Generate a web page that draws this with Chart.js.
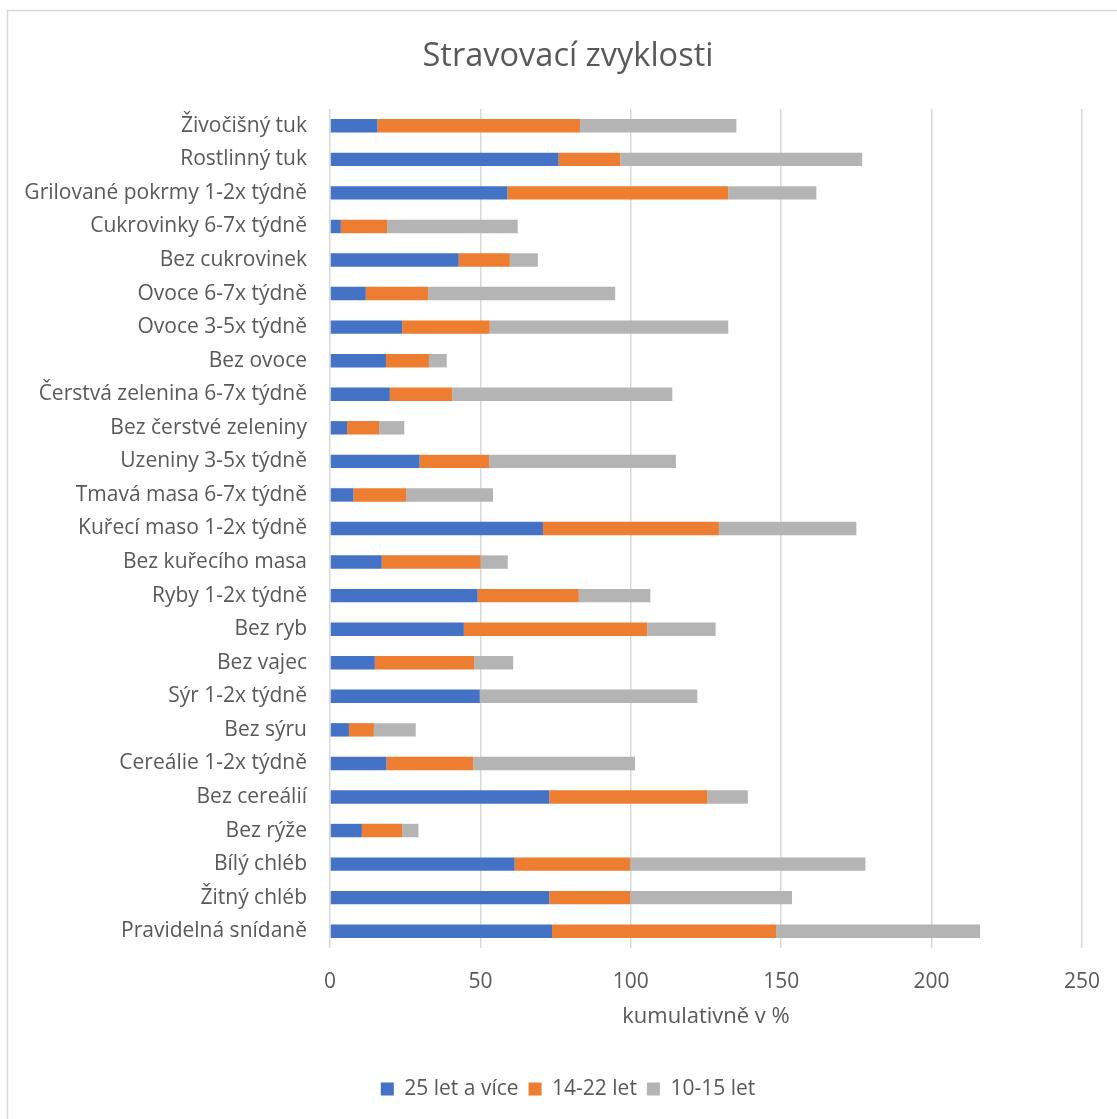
<!DOCTYPE html>
<html lang="cs">
<head>
<meta charset="utf-8">
<title>Stravovací zvyklosti</title>
<script src="https://cdn.jsdelivr.net/npm/chart.js@4/dist/chart.umd.min.js"></script>
<style>
  html, body { margin: 0; padding: 0; background: #ffffff; }
  #wrap { position: relative; width: 1117px; height: 1119px; }
</style>
</head>
<body>
<div id="wrap"><canvas id="chart" width="1117" height="1119"></canvas></div>
<script>
// Categories, top to bottom
const categories = [
  'Živočišný tuk',
  'Rostlinný tuk',
  'Grilované pokrmy 1-2x týdně',
  'Cukrovinky 6-7x týdně',
  'Bez cukrovinek',
  'Ovoce 6-7x týdně',
  'Ovoce 3-5x týdně',
  'Bez ovoce',
  'Čerstvá zelenina 6-7x týdně',
  'Bez čerstvé zeleniny',
  'Uzeniny 3-5x týdně',
  'Tmavá masa 6-7x týdně',
  'Kuřecí maso 1-2x týdně',
  'Bez kuřecího masa',
  'Ryby 1-2x týdně',
  'Bez ryb',
  'Bez vajec',
  'Sýr 1-2x týdně',
  'Bez sýru',
  'Cereálie 1-2x týdně',
  'Bez cereálií',
  'Bez rýže',
  'Bílý chléb',
  'Žitný chléb',
  'Pravidelná snídaně'
];

// Percentages per age group
const seriesAdults = [15.8, 76.0, 59.0, 3.6, 42.8, 11.9, 24.0, 18.6, 19.9, 5.7, 29.8, 7.8, 70.8, 17.2, 49.1, 44.5, 14.9, 49.8, 6.3, 18.8, 72.9, 10.6, 61.4, 72.9, 73.8];
const seriesYouth  = [67.3, 20.5, 73.4, 15.4, 17.0, 20.7, 29.1, 14.3, 20.7, 10.6, 23.1, 17.5, 58.5, 32.9, 33.6, 61.0, 33.0, 0.0, 8.3, 28.8, 52.6, 13.4, 38.4, 26.9, 74.5];
const seriesKids   = [52.0, 80.4, 29.3, 43.4, 9.3, 62.2, 79.3, 5.9, 73.2, 8.4, 62.1, 28.9, 45.7, 9.0, 23.8, 22.7, 13.0, 72.3, 13.9, 53.8, 13.4, 5.4, 78.2, 53.8, 67.8];

const seriesNames = ['25 let a více', '14-22 let', '10-15 let'];
const xTicks = [0, 50, 100, 150, 200, 250];

const chartTitle = 'Stravovací zvyklosti';
const axisTitle = 'kumulativně v %';

const textColor = '#595959';
const gridColor = '#d9d9d9';
const fontFamily = '"Open Sans", "Noto Sans", sans-serif';

// Outer frame of the chart object
const framePlugin = {
  id: 'frame',
  beforeDraw(chart) {
    const ctx = chart.ctx;
    ctx.save();
    ctx.fillStyle = '#ffffff';
    ctx.fillRect(0, 0, chart.width, chart.height);
    ctx.strokeStyle = gridColor;
    ctx.lineWidth = 1.5;
    ctx.strokeRect(7.5, 10.5, chart.width + 20, chart.height + 20);
    ctx.restore();
  }
};

new Chart(document.getElementById('chart'), {
  type: 'bar',
  data: {
    labels: categories,
    datasets: [
      { label: seriesNames[0], data: seriesAdults, backgroundColor: '#4472C4' },
      { label: seriesNames[1], data: seriesYouth,  backgroundColor: '#ED7D31' },
      { label: seriesNames[2], data: seriesKids,   backgroundColor: '#B4B4B4' }
    ]
  },
  plugins: [framePlugin],
  options: {
    indexAxis: 'y',
    responsive: false,
    animation: false,
    devicePixelRatio: 1,
    layout: { padding: { left: 19, right: 0, top: 0, bottom: 9.5 } },
    datasets: {
      bar: { categoryPercentage: 1.0, barPercentage: 0.4, borderWidth: 0 }
    },
    scales: {
      x: {
        stacked: true,
        min: 0,
        max: 250,
        afterBuildTicks(scale) { scale.ticks = xTicks.map(v => ({ value: v })); },
        afterFit(scale) { scale.height = 120.5; scale.paddingRight = 35; },
        grid: { color: gridColor, lineWidth: 1.5, drawTicks: false },
        border: { display: false },
        ticks: {
          color: textColor,
          padding: 21,
          font: { family: fontFamily, size: 21 }
        },
        title: {
          display: true,
          text: axisTitle,
          color: textColor,
          font: { family: fontFamily, size: 22 },
          padding: { top: 0, bottom: 38.3 }
        }
      },
      y: {
        stacked: true,
        afterFit(scale) { scale.width = 311; },
        grid: { display: false, drawTicks: false },
        border: { display: false },
        ticks: {
          color: textColor,
          padding: 23,
          autoSkip: false,
          font: { family: fontFamily, size: 21 }
        }
      }
    },
    plugins: {
      title: {
        display: true,
        text: chartTitle,
        color: textColor,
        font: { family: fontFamily, size: 32.5, weight: 'normal' },
        padding: { top: 37.5, bottom: 32.5 }
      },
      legend: {
        position: 'bottom',
        labels: {
          color: textColor,
          boxWidth: 13,
          boxHeight: 13,
          padding: 10,
          font: { family: fontFamily, size: 21 }
        }
      },
      tooltip: { enabled: false }
    }
  }
});
</script>
</body>
</html>
